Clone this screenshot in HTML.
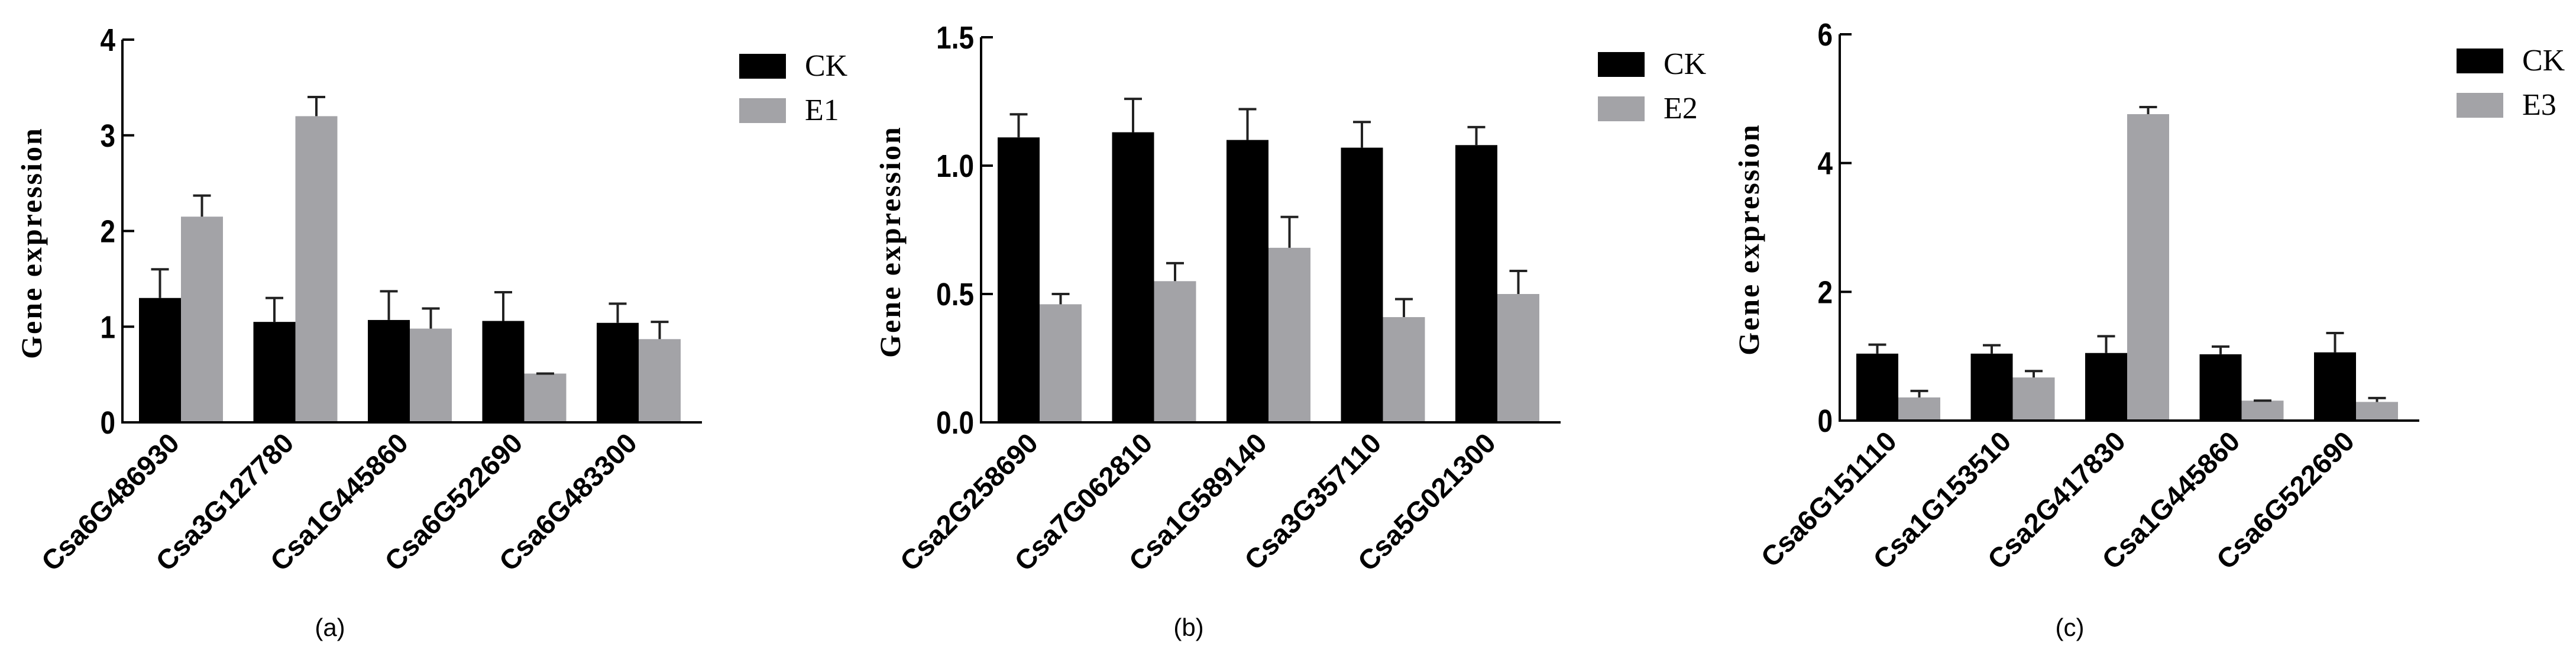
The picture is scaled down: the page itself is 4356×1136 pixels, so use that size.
<!DOCTYPE html>
<html><head><meta charset="utf-8">
<style>
html,body{margin:0;padding:0;background:#fff;}
svg{display:block;}
</style></head>
<body>
<svg id="fig" width="4356" height="1136" viewBox="0 0 4356 1136" xmlns="http://www.w3.org/2000/svg"></svg>
<script>
// Panel (a)
const genesA = ["Csa6G486930","Csa3G127780","Csa1G445860","Csa6G522690","Csa6G483300"];
const ckA = [1.30,1.05,1.07,1.06,1.04];
const ckErrA = [1.60,1.30,1.37,1.36,1.24];
const e1A = [2.15,3.20,0.98,0.51,0.87];
const e1ErrA = [2.37,3.40,1.19,0.51,1.05];
const ticksA = [0,1,2,3,4];
const tickLabelsA = ["0","1","2","3","4"];
// Panel (b)
const genesB = ["Csa2G258690","Csa7G062810","Csa1G589140","Csa3G357110","Csa5G021300"];
const ckB = [1.11,1.13,1.10,1.07,1.08];
const ckErrB = [1.20,1.26,1.22,1.17,1.15];
const e2B = [0.46,0.55,0.68,0.41,0.50];
const e2ErrB = [0.50,0.62,0.80,0.48,0.59];
const ticksB = [0,0.5,1.0,1.5];
const tickLabelsB = ["0.0","0.5","1.0","1.5"];
// Panel (c)
const genesC = ["Csa6G151110","Csa1G153510","Csa2G417830","Csa1G445860","Csa6G522690"];
const ckC = [1.04,1.04,1.05,1.03,1.06];
const ckErrC = [1.18,1.17,1.31,1.15,1.36];
const e3C = [0.36,0.67,4.76,0.31,0.29];
const e3ErrC = [0.46,0.77,4.87,0.31,0.35];
const ticksC = [0,2,4,6];
const tickLabelsC = ["0","2","4","6"];

const NS="http://www.w3.org/2000/svg";
const svg=document.getElementById('fig');
function mk(tag,attrs,parent){const e=document.createElementNS(NS,tag);for(const k in attrs)e.setAttribute(k,attrs[k]);(parent||svg).appendChild(e);return e;}

function panel(cfg){
  const g=mk('g',{});
  
  
  const ox=cfg.ox, top=cfg.top, zero=cfg.zero, max=cfg.max;
  const y=v=>zero-(v/max)*(zero-top);
  const axisX=ox+207, axisEnd=ox+1187;
  const gx=i=>ox+235+i*193.5;
  const bw=71;
  cfg.genes.forEach((gn,i)=>{
    const x0=gx(i);
    const ck=mk('rect',{x:x0,y:y(cfg.ck[i]),width:bw,height:zero-y(cfg.ck[i]),fill:'#000'},g);
    
    
    const e=mk('rect',{x:x0+bw,y:y(cfg.e[i]),width:bw,height:zero-y(cfg.e[i]),fill:'#a3a3a7'},g);
    
    
    [[x0+bw/2,cfg.ck[i],cfg.ckErr[i],'ck'],[x0+bw*1.5,cfg.e[i],cfg.eErr[i],cfg.eName.toLowerCase()]].forEach(d=>{
      const eb=mk('path',{d:`M${d[0]},${y(d[1])}V${y(d[2])}M${d[0]-15},${y(d[2])}H${d[0]+15}`,stroke:'#222',"stroke-width":4,fill:'none'},g);
      
      
    });
    const cx=x0+bw;
    const t=mk('text',{x:cx,y:zero+38,"text-anchor":'end',transform:`rotate(-45 ${cx} ${zero+38})`,"font-family":'"Liberation Sans",sans-serif',"font-weight":'bold',"font-size":47,fill:'#000'},g);
    t.textContent=gn;
    
    
  });
  const ax=mk('path',{d:`M${axisX},${top}V${zero}H${axisEnd}`,stroke:'#000',"stroke-width":4,fill:'none'},g);
  
  
  cfg.ticks.forEach((v,i)=>{
    const tk=mk('line',{x1:axisX,x2:axisX+20,y1:y(v),y2:y(v),stroke:'#000',"stroke-width":4},g);
    
    
    const tx=axisX-12, ty=y(v)+19;
    const tl=mk('text',{x:0,y:0,"text-anchor":'end',transform:`translate(${tx} ${ty}) scale(0.85 1)`,"font-family":'"Liberation Sans",sans-serif',"font-weight":'bold',"font-size":54,fill:'#000'},g);
    tl.textContent=cfg.tickLabels[i];
    
    
  });
  const yt=mk('text',{x:ox+70,y:(top+zero)/2+20,"text-anchor":'middle',transform:`rotate(-90 ${ox+70} ${(top+zero)/2+20})`,"font-family":'"Liberation Serif",serif',"font-weight":'bold',"font-size":50,"letter-spacing":3,fill:'#000'},g);
  yt.textContent='Gene expression';
  
  
  [['CK','#000',cfg.legY],[cfg.eName,'#a3a3a7',cfg.legY+75]].forEach(l=>{
    const lg=mk('g',{},g);
    
    
    mk('rect',{x:ox+1250,y:l[2],width:79,height:42,fill:l[1]},lg);
    const lt=mk('text',{x:ox+1361,y:l[2]+37,"font-family":'"Liberation Serif",serif',"font-size":52,fill:'#000'},lg);
    lt.textContent=l[0];
  });
  const cap=mk('text',{x:ox+cfg.capX,y:1075,"text-anchor":'middle',"font-family":'"Liberation Sans",sans-serif',"font-size":42,fill:'#000'},g);
  cap.textContent='('+cfg.letter+')';
  
  
}
panel({letter:'a',ox:0,top:67,zero:714,max:4,genes:genesA,ck:ckA,ckErr:ckErrA,e:e1A,eErr:e1ErrA,eName:'E1',ticks:ticksA,tickLabels:tickLabelsA,legY:91,capX:558});
panel({letter:'b',ox:1452,top:63,zero:714,max:1.5,genes:genesB,ck:ckB,ckErr:ckErrB,e:e2B,eErr:e2ErrB,eName:'E2',ticks:ticksB,tickLabels:tickLabelsB,legY:88,capX:558});
panel({letter:'c',ox:2904,top:58,zero:711,max:6,genes:genesC,ck:ckC,ckErr:ckErrC,e:e3C,eErr:e3ErrC,eName:'E3',ticks:ticksC,tickLabels:tickLabelsC,legY:82,capX:596});
</script>
</body></html>
